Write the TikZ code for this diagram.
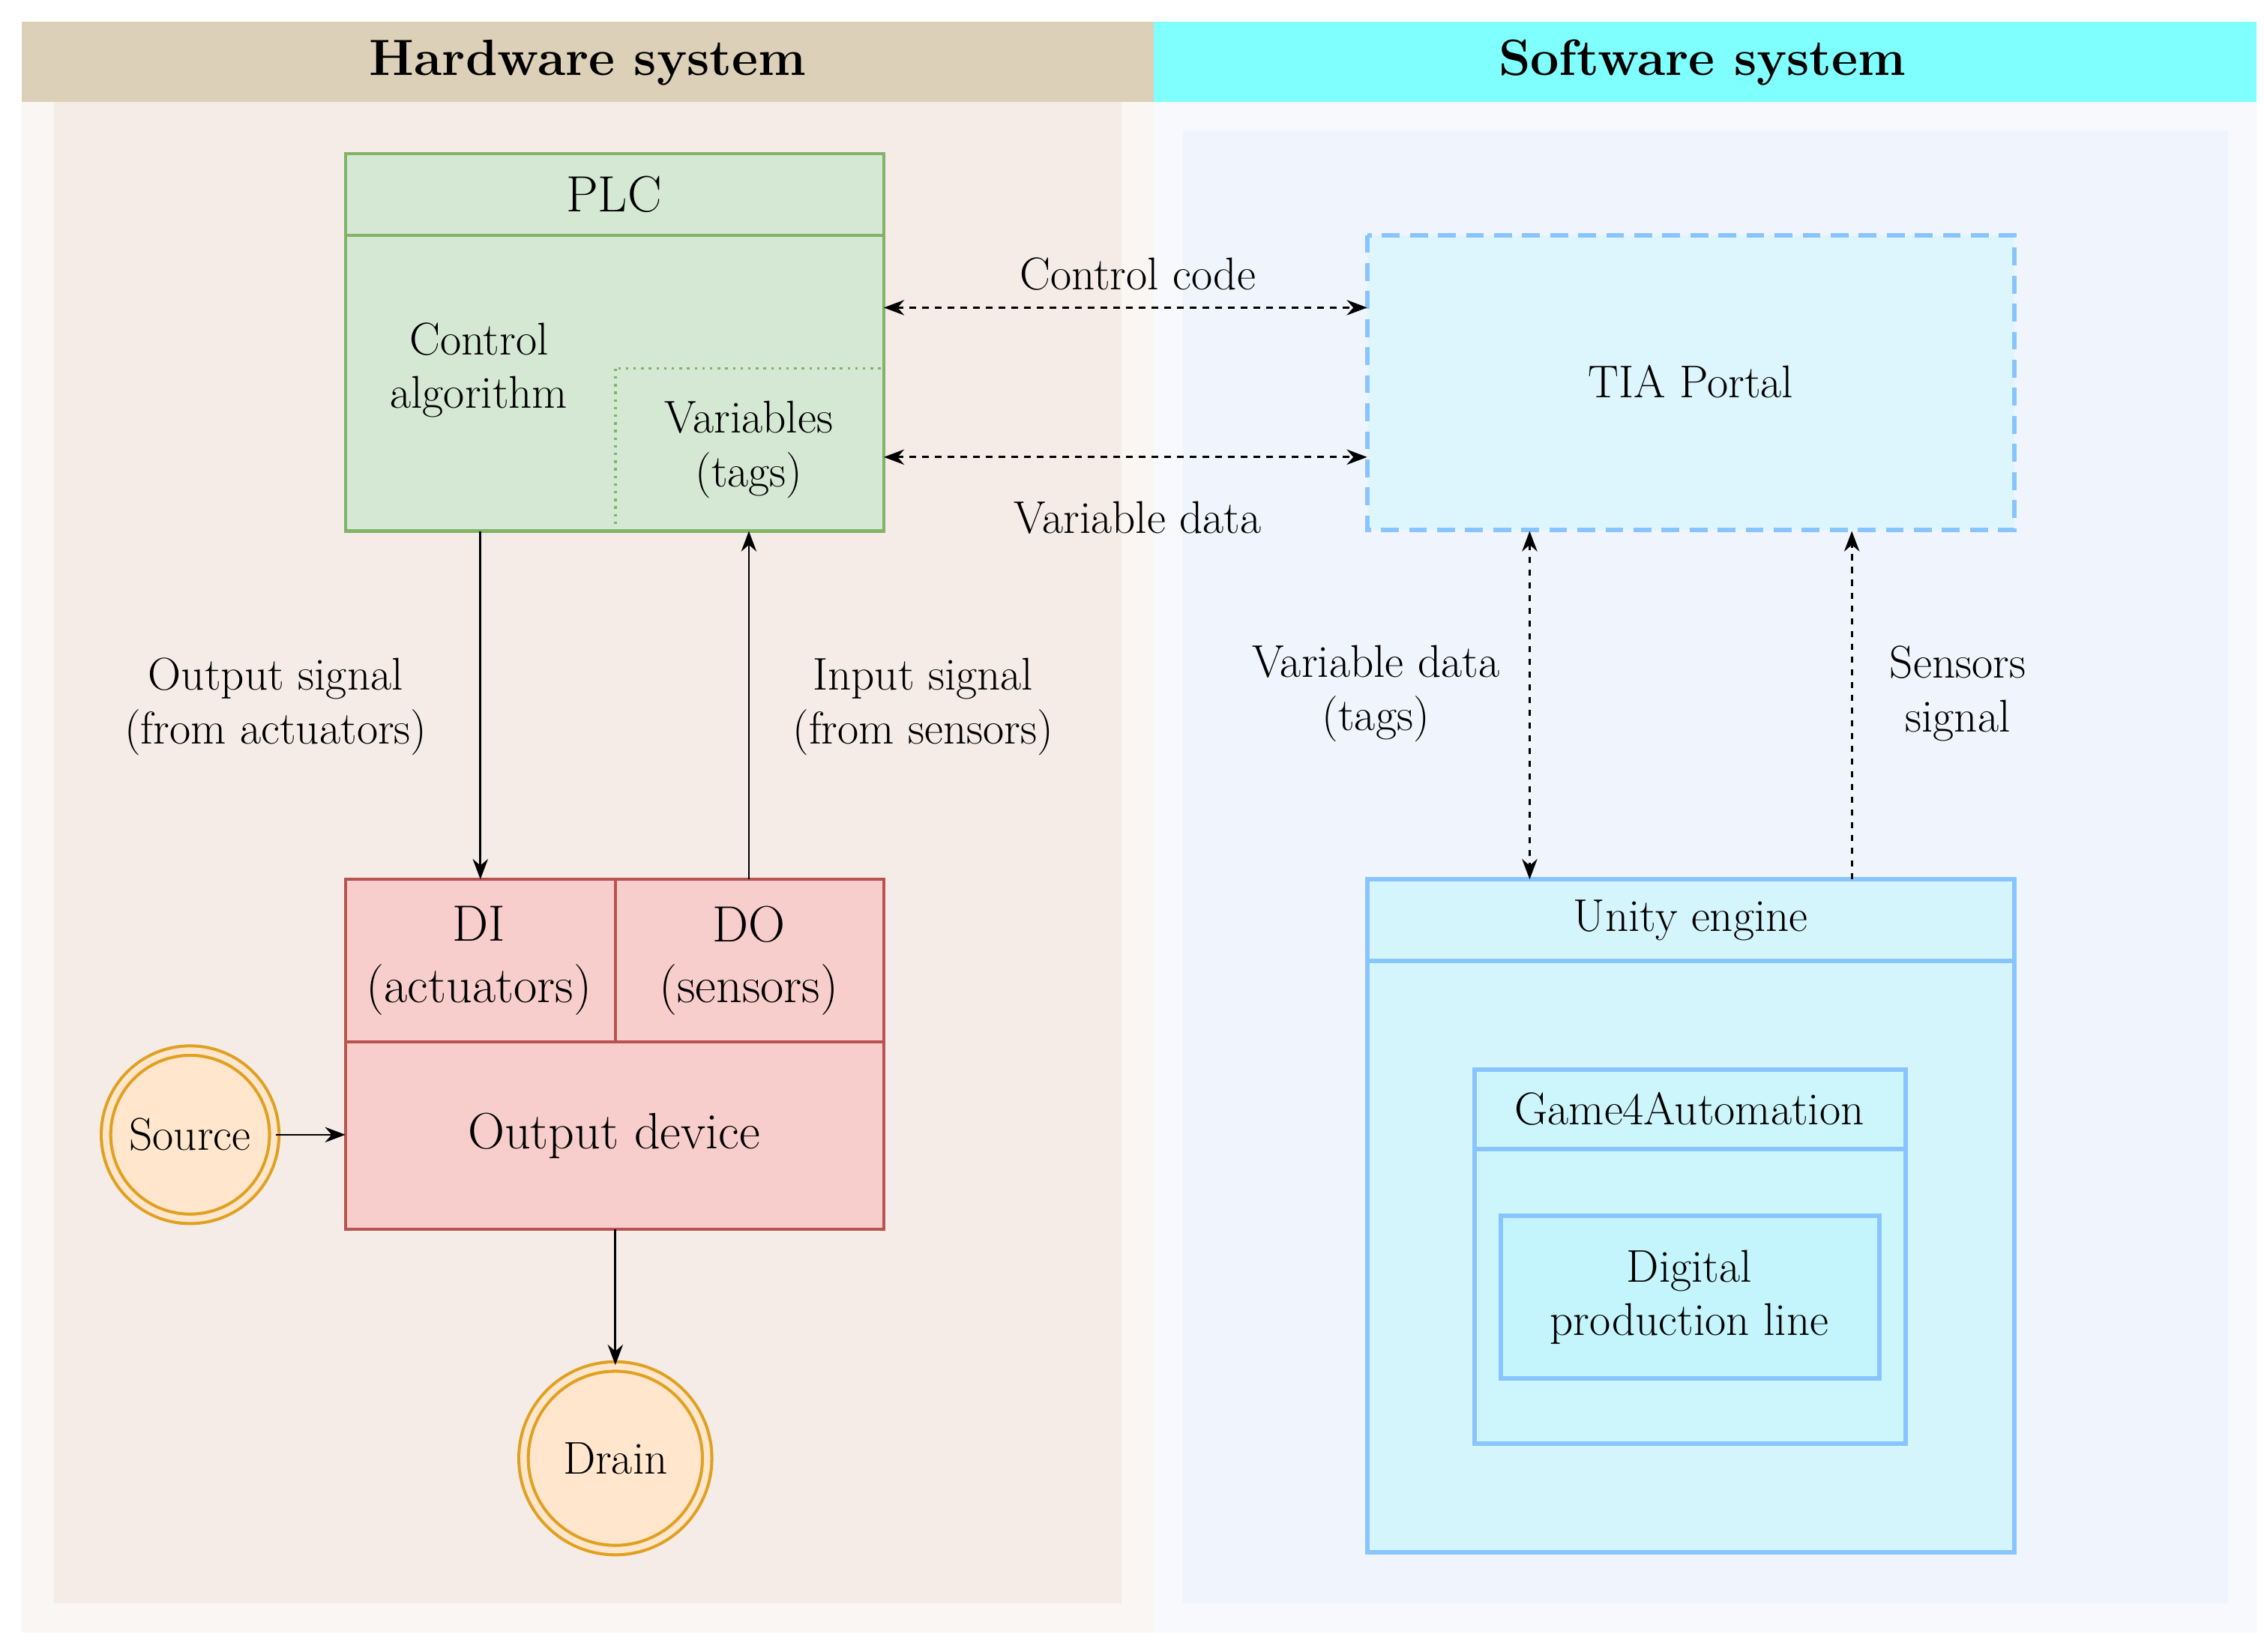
\documentclass[tikz,border=0pt]{standalone}
\usetikzlibrary{arrows.meta}
\definecolor{tan}{HTML}{DDD0B8}
\definecolor{cyanh}{HTML}{80FFFF}
\definecolor{gfill}{HTML}{D5E8D4}\definecolor{gline}{HTML}{82B366}
\definecolor{rfill}{HTML}{F8CECC}\definecolor{rline}{HTML}{B85450}
\definecolor{ofill}{HTML}{FFE6CC}\definecolor{oline}{HTML}{E0A020}
\definecolor{bline}{HTML}{88C4FF}
\definecolor{bgA}{HTML}{F9F6F4}\definecolor{bgB}{HTML}{F5ECE8}
\definecolor{bgC}{HTML}{F8F9FC}\definecolor{bgD}{HTML}{F0F4FC}
\definecolor{tiaf}{HTML}{DDF5FC}\definecolor{unf}{HTML}{D5F5FC}
\definecolor{gaf}{HTML}{CCF6FC}\definecolor{dpf}{HTML}{C4F4FC}
\begin{document}
\begin{tikzpicture}[x=0.02cm,y=-0.02cm,font=\fontsize{18}{21}\selectfont,
 box/.style={draw,line width=1.2pt},
 arr/.style={-{Stealth[length=8pt,width=6pt]},line width=0.8pt},
 darr/.style={{Stealth[length=8pt,width=6pt]}-{Stealth[length=8pt,width=6pt]},line width=0.8pt,dash pattern=on 2.5pt off 2.5pt},
 circ/.style={circle,draw=oline,fill=ofill,double=ofill,double distance=2.5pt,line width=1.2pt,inner sep=0pt}]
\useasboundingbox (0,0) rectangle (1560,1138);
% backgrounds
\fill[white] (0,0) rectangle (1560,1138);
\fill[tan] (15,15) rectangle (795,70);
\fill[cyanh] (795,15) rectangle (1555,70);
\fill[bgA] (15,70) rectangle (795,1125);
\fill[bgB] (37,70) rectangle (773,1105);
\fill[bgC] (795,70) rectangle (1555,1125);
\fill[bgD] (815,90) rectangle (1535,1105);
\node[font=\fontsize{20}{24}\selectfont\bfseries] (hw) at (405,43) {Hardware system};
\node[font=\fontsize{20}{24}\selectfont\bfseries] (sw) at (1173,43) {Software system};
% PLC
\draw[box,draw=gline,fill=gfill] (238,106) rectangle (609,366);
\draw[box,draw=gline] (238,162) -- (609,162);
\draw[draw=gline,dotted,line width=1pt] (424,254) rectangle (609,366);
\node[font=\fontsize{20}{24}\selectfont] (plc) at (423,134) {PLC};
\node[align=center] (ca) at (330,255) {Control\\algorithm};
\node[align=center] (var) at (516,310) {Variables\\(tags)};
\coordinate (plcA) at (331,366); \coordinate (plcB) at (516,366);
\coordinate (plcR1) at (609,212); \coordinate (plcR2) at (609,315);
% TIA
\draw[draw=bline,fill=tiaf,line width=1.8pt,dash pattern=on 7pt off 4pt] (942,162) rectangle (1388,365);
\node (tia) at (1165,263) {TIA Portal};
\coordinate (tiaL1) at (942,212); \coordinate (tiaL2) at (942,315);
\coordinate (tiaA) at (1054,366); \coordinate (tiaB) at (1276,366);
% DI/DO
\draw[box,draw=rline,fill=rfill] (238,606) rectangle (609,847);
\draw[box,draw=rline] (238,718) -- (609,718) (424,606) -- (424,718);
\node[align=center,font=\fontsize{20}{24}\selectfont] (di) at (330,662) {DI\\(actuators)};
\node[align=center,font=\fontsize{20}{24}\selectfont] (do) at (516,662) {DO\\(sensors)};
\node[font=\fontsize{20}{24}\selectfont] (od) at (423,783) {Output device};
\coordinate (diT) at (331,606); \coordinate (doT) at (516,606);
\coordinate (odL) at (238,782); \coordinate (odB) at (424,847);
\node[circ,minimum size=66pt] (src) at (131,782) {Source};
\node[circ,minimum size=72pt] (drain) at (424,1005) {Drain};
% Unity
\draw[box,draw=bline,fill=unf,line width=1.8pt] (942,606) rectangle (1388,1070);
\draw[draw=bline,line width=1.8pt] (942,662) -- (1388,662);
\node (unity) at (1165,634) {Unity engine};
\coordinate (unA) at (1054,606); \coordinate (unB) at (1276,606);
\draw[draw=bline,fill=gaf,line width=1.8pt] (1016,737) rectangle (1313,995);
\draw[draw=bline,line width=1.8pt] (1016,792) -- (1313,792);
\node (g4a) at (1164,764) {Game4Automation};
\draw[draw=bline,fill=dpf,line width=1.8pt] (1034,838) rectangle (1295,950);
\node[align=center] (dpl) at (1164,894) {Digital\\production line};
% connectors
\draw[arr] (plcA) -- (diT);
\draw[arr] (doT) -- (plcB);
\draw[arr] (src) -- (odL);
\draw[arr] (odB) -- (drain);
\draw[darr] (plcR1) -- (tiaL1);
\draw[darr] (plcR2) -- (tiaL2);
\draw[darr] (tiaA) -- (unA);
\draw[arr,dash pattern=on 2.5pt off 2.5pt] (unB) -- (tiaB);
% labels
\node (l1) at (784,189) {Control code};
\node (l2) at (784,357) {Variable data};
\node[align=center] (l3) at (190,487) {Output signal\\(from actuators)};
\node[align=center] (l4) at (636,487) {Input signal\\(from sensors)};
\node[align=center] (l5) at (948,478) {Variable data\\(tags)};
\node[align=center] (l6) at (1349,478) {Sensors\\signal};
\end{tikzpicture}
\end{document}
